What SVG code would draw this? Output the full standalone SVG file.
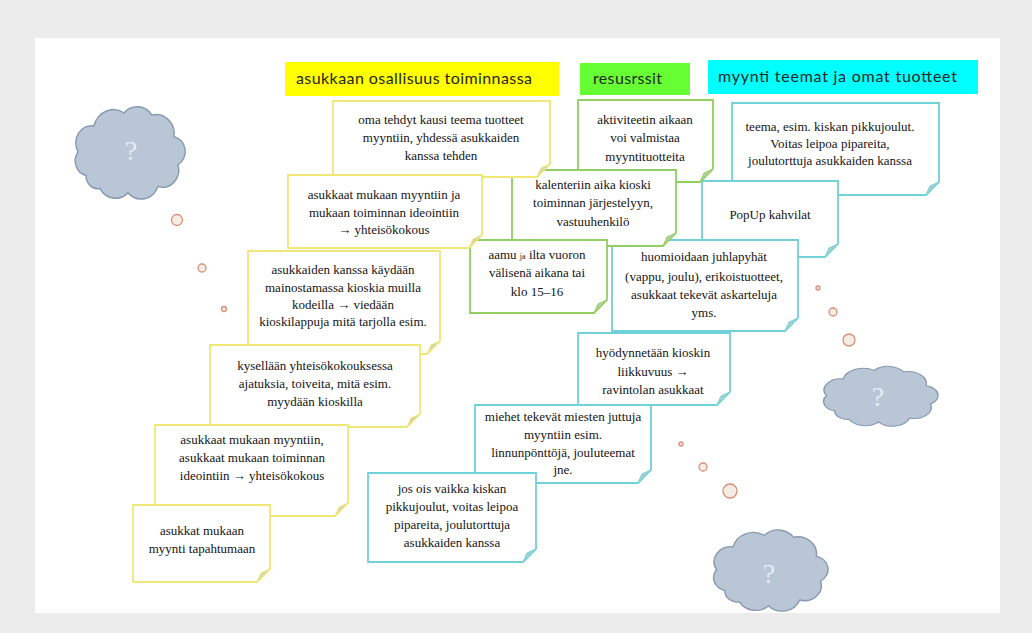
<svg xmlns="http://www.w3.org/2000/svg" width="1032" height="633" viewBox="0 0 1032 633">
  <style>
    .hdr-t { font-family: Lato, "Liberation Sans", sans-serif; font-size: 16px; fill: #262626; }
    .body { fill: #ffffff; stroke-width: 1.8; }
    .ny .body, .ny .fold { stroke: #efe876; }
    .ng .body, .ng .fold { stroke: #92cf62; }
    .nc .body, .nc .fold { stroke: #70d2d8; }
    .fold { stroke-width: 1; }
    .ny .fold { fill: #d8d4ae; }
    .ng .fold { fill: #b4cf9e; }
    .nc .fold { fill: #a7d0d3; }
    .t { font-family: "Liberation Serif", "Times New Roman", serif; font-size: 13px; fill: #141414; text-anchor: middle; }
    .cloud { fill: #b9c6d6; stroke: #8798af; stroke-width: 1.4; }
    .q { font-family: "Liberation Serif", serif; font-size: 28px; fill: #e6ecf3; text-anchor: middle; }
    .bub { fill: #f6ece6; stroke: #d98f74; stroke-width: 1.3; }
  </style>
  <defs>
    <path id="cloudShape" d="M20 70A14 14 0 0 1 12 48A16 16 0 0 1 28 24A20 20 0 0 1 58 12A18 18 0 0 1 86 14A18 18 0 0 1 108 34A14 14 0 0 1 112 60A16 16 0 0 1 92 80A18 18 0 0 1 62 86A18 18 0 0 1 34 82A12 12 0 0 1 20 70Z"/>
  </defs>

  <!-- page -->
  <rect x="0" y="0" width="1032" height="633" fill="#ececec"/>
  <rect x="35" y="38" width="965" height="575" fill="#ffffff"/>

  <!-- column headers -->
  <g id="hdr-osallisuus">
    <rect x="285" y="62" width="274" height="34" fill="#ffff00"/>
    <text class="hdr-t" x="296" y="84" textLength="236">asukkaan osallisuus toiminnassa</text>
  </g>
  <g id="hdr-resurssit">
    <rect x="580" y="63" width="110" height="32" fill="#66ff33"/>
    <text class="hdr-t" x="593" y="84" textLength="69">resusrssit</text>
  </g>
  <g id="hdr-teemat">
    <rect x="708" y="60" width="270" height="34" fill="#00ffff"/>
    <text class="hdr-t" x="718" y="82" textLength="239">myynti teemat ja omat tuotteet</text>
  </g>

  <!-- thought clouds -->
  <g id="cloud-left">
    <use href="#cloudShape" class="cloud" transform="translate(66,100) scale(1.0,1.08)"/>
    <text class="q" x="131" y="160">?</text>
    <circle class="bub" cx="177" cy="220" r="5.5"/>
    <circle class="bub" cx="202" cy="268" r="4"/>
    <circle class="bub" cx="224" cy="309" r="2.5"/>
  </g>
  <g id="cloud-right">
    <use href="#cloudShape" class="cloud" transform="translate(814,362) scale(1.04,0.7)"/>
    <text class="q" x="878" y="406">?</text>
    <circle class="bub" cx="818" cy="288" r="2"/>
    <circle class="bub" cx="833" cy="312" r="4"/>
    <circle class="bub" cx="849" cy="340" r="6"/>
  </g>
  <g id="cloud-bottom">
    <use href="#cloudShape" class="cloud" transform="translate(704,524) scale(1.04,0.95)"/>
    <text class="q" x="769" y="583">?</text>
    <circle class="bub" cx="681" cy="444" r="2"/>
    <circle class="bub" cx="703" cy="467" r="4"/>
    <circle class="bub" cx="730" cy="491" r="7"/>
  </g>

  <!-- myynti teemat -column -->
  <g id="c1" class="nc" transform="translate(732,103)">
    <path class="body" d="M0 0H207V79L194 92H0Z"/>
    <path class="fold" d="M194 92L207 79L198 83Z"/>
    <text class="t" x="98" y="28">teema, esim. kiskan pikkujoulut.</text>
    <text class="t" x="98" y="45">Voitas leipoa pipareita,</text>
    <text class="t" x="98" y="62">joulutorttuja asukkaiden kanssa</text>
  </g>
  <g id="c2" class="nc" transform="translate(702,181)">
    <path class="body" d="M0 0H136V63L123 76H0Z"/>
    <path class="fold" d="M123 76L136 63L127 67Z"/>
    <text class="t" x="68" y="38">PopUp kahvilat</text>
  </g>
  <g id="c3" class="nc" transform="translate(612,240)">
    <path class="body" d="M0 0H186V78L173 91H0Z"/>
    <path class="fold" d="M173 91L186 78L177 82Z"/>
    <text class="t" x="92" y="21">huomioidaan juhlapyhät</text>
    <text class="t" x="92" y="41">(vappu, joulu), erikoistuotteet,</text>
    <text class="t" x="92" y="59">asukkaat tekevät askarteluja</text>
    <text class="t" x="92" y="77">yms.</text>
  </g>

  <!-- resurssit -column -->
  <g id="g1" class="ng" transform="translate(578,100)">
    <path class="body" d="M0 0H135V69L122 82H0Z"/>
    <path class="fold" d="M122 82L135 69L126 73Z"/>
    <text class="t" x="67" y="24">aktiviteetin aikaan</text>
    <text class="t" x="67" y="42">voi valmistaa</text>
    <text class="t" x="67" y="61">myyntituotteita</text>
  </g>
  <g id="g2" class="ng" transform="translate(512,170)">
    <path class="body" d="M0 0H164V63L151 76H0Z"/>
    <path class="fold" d="M151 76L164 63L155 67Z"/>
    <text class="t" x="81" y="19">kalenteriin aika kioski</text>
    <text class="t" x="81" y="37">toiminnan järjestelyyn,</text>
    <text class="t" x="81" y="56">vastuuhenkilö</text>
  </g>
  <g id="g3" class="ng" transform="translate(470,240)">
    <path class="body" d="M0 0H137V60L124 73H0Z"/>
    <path class="fold" d="M124 73L137 60L128 64Z"/>
    <text class="t" x="67" y="19">aamu <tspan font-size="8">ja</tspan> ilta vuoron</text>
    <text class="t" x="67" y="37">välisenä aikana tai</text>
    <text class="t" x="67" y="56">klo 15–16</text>
  </g>

  <!-- osallisuus -column -->
  <g id="y1" class="ny" transform="translate(333,101)">
    <path class="body" d="M0 0H217V63L204 76H0Z"/>
    <path class="fold" d="M204 76L217 63L208 67Z"/>
    <text class="t" x="108" y="23">oma tehdyt kausi teema tuotteet</text>
    <text class="t" x="108" y="41">myyntiin, yhdessä asukkaiden</text>
    <text class="t" x="108" y="59">kanssa tehden</text>
  </g>
  <g id="y2" class="ny" transform="translate(288,175)">
    <path class="body" d="M0 0H194V60L181 73H0Z"/>
    <path class="fold" d="M181 73L194 60L185 64Z"/>
    <text class="t" x="96" y="24">asukkaat mukaan myyntiin ja</text>
    <text class="t" x="96" y="42">mukaan toiminnan ideointiin</text>
    <text class="t" x="96" y="59">→ yhteisökokous</text>
  </g>
  <g id="y3" class="ny" transform="translate(248,251)">
    <path class="body" d="M0 0H192V90L179 103H0Z"/>
    <path class="fold" d="M179 103L192 90L183 94Z"/>
    <text class="t" x="95" y="23">asukkaiden kanssa käydään</text>
    <text class="t" x="95" y="41">mainostamassa kioskia muilla</text>
    <text class="t" x="95" y="58">kodeilla → viedään</text>
    <text class="t" x="95" y="75">kioskilappuja mitä tarjolla esim.</text>
  </g>
  <g id="y4" class="ny" transform="translate(210,345)">
    <path class="body" d="M0 0H210V69L197 82H0Z"/>
    <path class="fold" d="M197 82L210 69L201 73Z"/>
    <text class="t" x="105" y="25">kysellään yhteisökokouksessa</text>
    <text class="t" x="105" y="43">ajatuksia, toiveita, mitä esim.</text>
    <text class="t" x="105" y="61">myydään kioskilla</text>
  </g>
  <g id="y5" class="ny" transform="translate(155,425)">
    <path class="body" d="M0 0H193V78L180 91H0Z"/>
    <path class="fold" d="M180 91L193 78L184 82Z"/>
    <text class="t" x="97" y="19">asukkaat mukaan myyntiin,</text>
    <text class="t" x="97" y="37">asukkaat mukaan toiminnan</text>
    <text class="t" x="97" y="55">ideointiin → yhteisökokous</text>
  </g>
  <g id="y6" class="ny" transform="translate(133,505)">
    <path class="body" d="M0 0H137V64L124 77H0Z"/>
    <path class="fold" d="M124 77L137 64L128 68Z"/>
    <text class="t" x="69" y="30">asukkat mukaan</text>
    <text class="t" x="69" y="48">myynti tapahtumaan</text>
  </g>

  <!-- lower myynti teemat notes -->
  <g id="c4" class="nc" transform="translate(578,333)">
    <path class="body" d="M0 0H152V59L139 72H0Z"/>
    <path class="fold" d="M139 72L152 59L143 63Z"/>
    <text class="t" x="75" y="24">hyödynnetään kioskin</text>
    <text class="t" x="75" y="43">liikkuvuus →</text>
    <text class="t" x="75" y="61">ravintolan asukkaat</text>
  </g>
  <g id="c5" class="nc" transform="translate(475,405)">
    <path class="body" d="M0 0H176V65L163 78H0Z"/>
    <path class="fold" d="M163 78L176 65L167 69Z"/>
    <text class="t" x="88" y="16">miehet tekevät miesten juttuja</text>
    <text class="t" x="88" y="34">myyntiin esim.</text>
    <text class="t" x="88" y="52">linnunpönttöjä, jouluteemat</text>
    <text class="t" x="88" y="69">jne.</text>
  </g>
  <g id="c6" class="nc" transform="translate(368,473)">
    <path class="body" d="M0 0H168V76L155 89H0Z"/>
    <path class="fold" d="M155 89L168 76L159 80Z"/>
    <text class="t" x="84" y="20">jos ois vaikka kiskan</text>
    <text class="t" x="84" y="38">pikkujoulut, voitas leipoa</text>
    <text class="t" x="84" y="56">pipareita, joulutorttuja</text>
    <text class="t" x="84" y="74">asukkaiden kanssa</text>
  </g>
</svg>
